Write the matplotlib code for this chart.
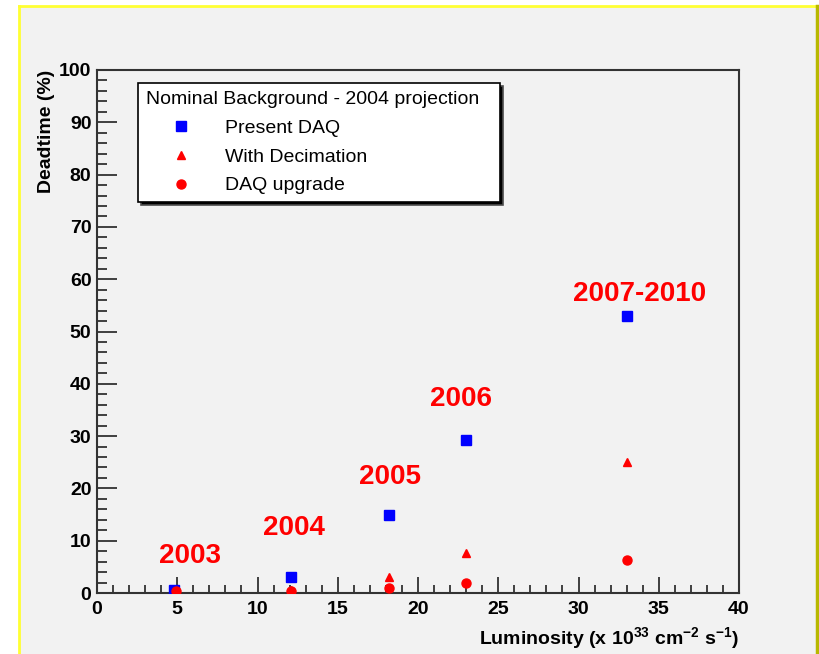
import numpy as np
import matplotlib
matplotlib.use('Agg')
import matplotlib.pyplot as plt
from matplotlib.patches import Rectangle
from matplotlib.lines import Line2D
from matplotlib.ticker import MultipleLocator

plt.rcParams['font.family'] = ['Liberation Sans', 'DejaVu Sans']
plt.rcParams['mathtext.fontset'] = 'custom'
plt.rcParams['mathtext.rm'] = 'Liberation Sans:bold'
plt.rcParams['mathtext.bf'] = 'Liberation Sans:bold'

# luminosity per year (x 10^33)
lumi_daq = [4.8, 12.1, 18.2, 23.0, 33.0]
dead_daq = [0.6, 3.0, 15.0, 29.2, 53.0]
lumi_dec = [4.9, 12.1, 18.2, 23.0, 33.0]
dead_dec = [0.2, 0.6, 3.1, 7.6, 25.0]
lumi_upg = [4.9, 12.1, 18.2, 23.0, 33.0]
dead_upg = [0.3, 0.45, 0.9, 1.85, 6.3]

years = ['2003', '2004', '2005', '2006', '2007-2010']
year_x = [5.8, 12.3, 18.25, 22.7, 33.8]
year_y = [7.1, 12.4, 22.2, 37.1, 57.2]

fig = plt.figure(figsize=(8.19, 6.54), dpi=100)
fig.patch.set_facecolor('white')

# canvas frame
W, H = 819.0, 654.0
fig.patches.append(Rectangle((19/W, 0), (817-19)/W, 1-6/H, transform=fig.transFigure,
                             facecolor='#f2f2f2', edgecolor='none', zorder=-10))
fig.lines.append(Line2D([19/W, 817/W], [1-6/H, 1-6/H], transform=fig.transFigure, color='#ffff33', lw=2))
fig.lines.append(Line2D([19/W, 19/W], [0, 1-6/H], transform=fig.transFigure, color='#ffff33', lw=2))
fig.lines.append(Line2D([817/W, 817/W], [0, 1-6/H], transform=fig.transFigure, color='#b8b800', lw=2.5))

ax = fig.add_axes([97/W, 1-593/H, (739-97)/W, (593-70)/H])
ax.set_facecolor('#f2f2f2')
ax.set_xlim(0, 40)
ax.set_ylim(0, 100)

ax.plot(lumi_daq, dead_daq, ls='none', marker='s', color='#0000ff', ms=6.5, label='Present DAQ', zorder=3)
ax.plot(lumi_dec, dead_dec, ls='none', marker='^', color='#ff0000', ms=6, label='With Decimation', zorder=3)
ax.plot(lumi_upg, dead_upg, ls='none', marker='o', color='#ff0000', ms=6.5, label='DAQ upgrade', zorder=4)

for t, x, y in zip(years, year_x, year_y):
    ax.text(x, y, t, color='#ff0000', fontsize=20, fontweight='bold', ha='center', va='center')

ax.xaxis.set_major_locator(MultipleLocator(5))
ax.xaxis.set_minor_locator(MultipleLocator(1))
ax.yaxis.set_major_locator(MultipleLocator(10))
ax.yaxis.set_minor_locator(MultipleLocator(2))
ax.tick_params(axis='y', which='major', direction='in', length=14.5, width=1.2, color='#222222', pad=4, labelsize=14)
ax.tick_params(axis='y', which='minor', direction='in', length=7, width=1.2, color='#222222')
ax.tick_params(axis='x', which='major', direction='in', length=11.5, width=1.2, color='#222222', pad=6, labelsize=14)
ax.tick_params(axis='x', which='minor', direction='in', length=6, width=1.2, color='#222222')
for lab in ax.get_xticklabels() + ax.get_yticklabels():
    lab.set_fontweight('bold')
for s in ax.spines.values():
    s.set_color('#333333')
    s.set_linewidth(1.5)

ax.set_ylabel('Deadtime (%)', fontsize=14, fontweight='bold', loc='top', labelpad=3)
ax.set_xlabel(r'Luminosity (x 10$^{33}$ cm$^{-2}$ s$^{-1}$)', fontsize=14, fontweight='bold', loc='right', labelpad=5)

leg = ax.legend(loc='upper left', bbox_to_anchor=((138-97)/642, (593-83)/523, (500-138)/642, 0.0),
                mode='expand', title='Nominal Background - 2004 projection', alignment='left',
                fontsize=14, title_fontsize=14, frameon=True, fancybox=False,
                edgecolor='black', facecolor='white', framealpha=1,
                shadow={'facecolor': 'black', 'alpha': 1},
                borderpad=0.4, handlelength=3.6, handletextpad=0.45, labelspacing=0.58,
                borderaxespad=0, markerscale=1.0)
leg.get_frame().set_linewidth(1.2)

fig.savefig('out.png', dpi=100)
